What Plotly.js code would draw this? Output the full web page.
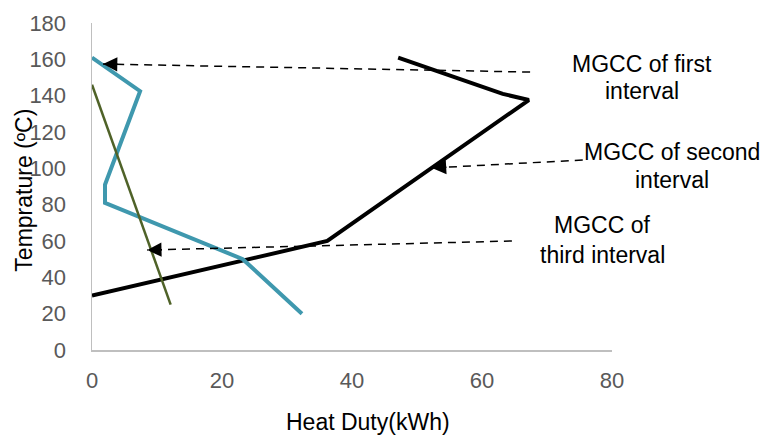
<!DOCTYPE html>
<html>
<head>
<meta charset="utf-8">
<script src="https://cdn.plot.ly/plotly-3.0.1.min.js"></script>
<style>html,body{margin:0;padding:0;background:#fff;}#chart{width:766px;height:435px;}</style>
</head>
<body>
<div id="chart"></div>
<script>
// Series data (Heat duty kWh vs temperature °C)
const firstX = [47.1, 63.2, 67.2, 36.2, 0];
const firstY = [161, 141, 137.6, 60, 30];
const secondX = [0, 7.4, 2, 2, 23.2, 32.3];
const secondY = [161, 142.5, 91, 81, 50, 20];
const thirdX = [0, 12.1];
const thirdY = [146, 25];

// Callout label lines (paper x, data y) and arrow endpoints (data units)
const labelLines = [["MGCC of first", "interval"], ["MGCC of second", "interval"], ["MGCC of", "third interval"]];
const labelX = [1.058, 1.115, 0.981];
const labelLineY = [[157.4, 142.4], [109.0, 93.6], [68.8, 52.3]];
const arrowTailX = [67.4, 75.5, 64.6];
const arrowTailY = [153, 104.6, 60];
const arrowHeadX = [1.7, 52.3, 8.5];
const arrowHeadY = [157.4, 100.2, 55];

const xTicks = [0, 20, 40, 60, 80];
const yTicks = [0, 20, 40, 60, 80, 100, 120, 140, 160, 180];

const FONT = "Arial, 'Liberation Sans', sans-serif";

const traces = [
  {x: firstX, y: firstY, mode: "lines", line: {color: "#000000", width: 4}, hoverinfo: "none"},
  {x: secondX, y: secondY, mode: "lines", line: {color: "#3f98ae", width: 4}, hoverinfo: "none"},
  {x: thirdX, y: thirdY, mode: "lines", line: {color: "#4f6228", width: 2.5}, hoverinfo: "none"}
];

const W = 766, H = 435, mL = 92, mR = 154, mT = 23, mB = 85;
const pxX = (W - mL - mR) / 80;
const pxY = (H - mT - mB) / 180;

const shapes = [];
const annotations = [];
for (let i = 0; i < labelLines.length; i++) {
  shapes.push({type: "line", xref: "x", yref: "y",
    x0: arrowTailX[i], y0: arrowTailY[i], x1: arrowHeadX[i], y1: arrowHeadY[i],
    line: {color: "#000", width: 1.5, dash: "8px,6px"}});
  let dx = (arrowTailX[i] - arrowHeadX[i]) * pxX;
  let dy = -(arrowTailY[i] - arrowHeadY[i]) * pxY;
  const L = Math.hypot(dx, dy);
  annotations.push({x: arrowHeadX[i], y: arrowHeadY[i], xref: "x", yref: "y",
    ax: dx / L * 16, ay: dy / L * 16, axref: "pixel", ayref: "pixel",
    text: "", showarrow: true, arrowhead: 2, arrowsize: 1.9, arrowwidth: 1.5,
    arrowcolor: "#000", standoff: 0});
  for (let j = 0; j < labelLines[i].length; j++) {
    annotations.push({x: labelX[i], y: labelLineY[i][j], xref: "paper", yref: "y",
      xanchor: "center", yanchor: "middle",
      text: labelLines[i][j], showarrow: false, align: "center",
      font: {family: FONT, size: 23, color: "#000"}});
  }
}
annotations.push({x: 42.5, y: -0.22, xref: "x", yref: "paper", xanchor: "center", yanchor: "middle",
  text: "Heat Duty(kWh)", showarrow: false, font: {family: FONT, size: 23, color: "#000"}});
annotations.push({x: -0.131, y: 0.49, xref: "paper", yref: "paper", xanchor: "center", yanchor: "middle",
  text: "Temprature (ºC)", textangle: -90, showarrow: false, font: {family: FONT, size: 23, color: "#000"}});

const layout = {
  width: W, height: H,
  margin: {l: mL, r: mR, t: mT, b: mB, pad: 0},
  paper_bgcolor: "#fff", plot_bgcolor: "#fff",
  showlegend: false,
  font: {family: FONT},
  xaxis: {range: [0, 80], tickvals: xTicks, showgrid: false, zeroline: false,
    showline: true, linecolor: "#bfbfbf", linewidth: 1.5, ticks: "",
    ticklabelstandoff: 10, tickfont: {family: FONT, size: 22, color: "#595959"}},
  yaxis: {range: [0, 180], tickvals: yTicks, showgrid: false, zeroline: false,
    showline: true, linecolor: "#bfbfbf", linewidth: 1.5, ticks: "",
    ticklabelstandoff: 20, tickfont: {family: FONT, size: 22, color: "#595959"}},
  shapes: shapes,
  annotations: annotations
};

Plotly.newPlot("chart", traces, layout, {staticPlot: true, displayModeBar: false});
</script>
</body>
</html>
